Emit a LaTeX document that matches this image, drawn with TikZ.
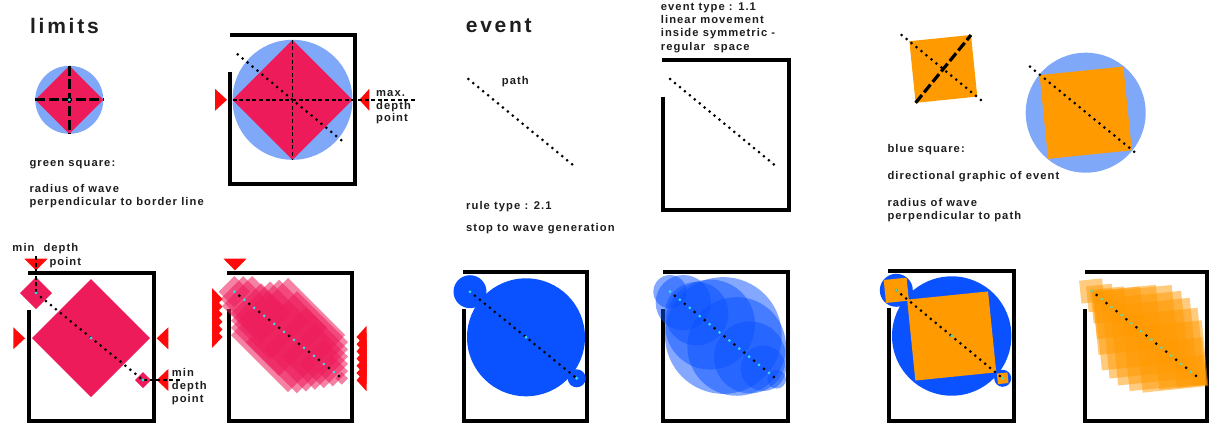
\documentclass[tikz,border=0pt]{standalone}
\usepackage{fontspec}
\setmainfont{Liberation Sans}[LetterSpace=13]
\newfontfamily\lblfont{Liberation Sans}[LetterSpace=9.5]
\definecolor{lblue}{HTML}{80A8F8}
\definecolor{crim}{HTML}{EE1B5B}
\definecolor{trired}{HTML}{FF0A0A}
\definecolor{dblue}{HTML}{0A52FF}
\definecolor{orng}{HTML}{FF9A00}
\definecolor{cyn}{HTML}{33E0E8}
\definecolor{cyng}{HTML}{55DDB8}
\definecolor{ink}{HTML}{1E1E1E}
\newcommand\pathang{39.2}
% rotated square, diagonal along the path: [opts]{cx}{cy}{half diagonal}
\newcommand\rsq[4][]{%
  \pgfmathsetmacro\sqdx{(#4)*cos(\pathang)}%
  \pgfmathsetmacro\sqdy{(#4)*sin(\pathang)}%
  \fill[#1] (#2+\sqdx,#3+\sqdy) -- (#2-\sqdy,#3+\sqdx) -- (#2-\sqdx,#3-\sqdy) -- (#2+\sqdy,#3-\sqdx) -- cycle;}
% diamond: [opts]{cx}{cy}{half diagonal}
\newcommand\dmd[4][]{%
  \fill[#1] (#2-#4,#3) -- (#2,#3-#4) -- (#2+#4,#3) -- (#2,#3+#4) -- cycle;}
% horizontal-pointing triangle: {base x}{tip x}{centre y}
\newcommand\htri[3]{\fill[trired] (#1,#3-11) -- (#2,#3) -- (#1,#3+11) -- cycle;}
% downward triangle: {centre x}{top y}{tip y}
\newcommand\dtri[3]{\fill[trired] (#1-11.7,#2) -- (#1+11.7,#2) -- (#1,#3) -- cycle;}
\begin{document}
\begin{tikzpicture}[x=1pt,y=-1pt,
  frame/.style={line width=4pt, line join=miter, line cap=butt},
  dotp/.style={line width=3pt, line cap=round, dash pattern=on 0pt off 6.4pt},
  dotalt/.style={line width=3pt, line cap=round, dash pattern=on 0pt off 12.8pt},
  thindash/.style={line width=1.5pt, dash pattern=on 4pt off 2.6pt},
  thickdash/.style={line width=3.2pt, dash pattern=on 10pt off 3.5pt},
  lbl/.style={inner sep=0pt, anchor=base west, text=ink, font=\lblfont\bfseries\fontsize{11.2}{13}\selectfont},
  ttl/.style={inner sep=0pt, anchor=base west, text=ink, font=\bfseries\fontsize{21}{25}\selectfont}]
\useasboundingbox (0,0) rectangle (1211,423);
\fill[white] (0,0) rectangle (1211,423);

% ================= titles
\node[ttl] (tlim) at (30,33.3) {limits};
\node[ttl] (tev) at (465.7,32.3) {event};

% ================= limits: small circle
\coordinate (sc) at (69.3,99.8);
\fill[lblue] (sc) circle[radius=34];
\dmd[crim]{69.3}{99.8}{34}
\coordinate (scl) at (35.3,99.8); \coordinate (scr) at (103.3,99.8);
\coordinate (sct) at (69.3,65.8); \coordinate (scb) at (69.3,133.8);
\draw[thickdash] (scl) -- (scr);
\draw[thickdash] (sct) -- (scb);
\fill[cyn] (sc) circle[radius=1.6];
\node[lbl] (g1) at (29.3,166.3) {green square:};
\node[lbl] (g2) at (29.3,192) {radius of wave};
\node[lbl] (g3) at (29.3,205) {perpendicular to border line};

% ================= limits: big top box
\fill[lblue] (292.5,99.8) circle[radius=60];
\dmd[crim]{292.5}{99.8}{60}
\coordinate (bt) at (292.5,39.8); \coordinate (bb) at (292.5,159.8);
\coordinate (bl) at (232.5,99.8); \coordinate (bx) at (415,99.8);
\draw[thindash] (bt) -- (bb);
\draw[frame] (230.3,72) -- (230.3,183.7) -- (354.7,183.7) -- (354.7,34.7) -- (230.3,34.7);
\htri{215}{227}{99.8}
\htri{369.3}{359.3}{99.8}
\draw[thindash] (bl) -- (bx);
\coordinate (p1s) at (237.7,54.3); \coordinate (p1e) at (344.3,142.7);
\draw[dotp] (p1s) -- (p1e);
\node[lbl] (m1) at (376,96.7) {max.};
\node[lbl] (m2) at (376,109.2) {depth};
\node[lbl] (m3) at (376,121.7) {point};

% ================= limits: bottom box 1
\draw[frame] (28.7,310) -- (28.7,421) -- (153.7,421) -- (153.7,272.7) -- (28.3,272.7);
\dmd[crim]{91}{338}{59}
\dmd[crim]{36}{293}{16}
\dmd[crim]{143}{380}{8}
\coordinate (p2s) at (36,293); \coordinate (p2m) at (91,338); \coordinate (p2e) at (143,380);
\coordinate (q2a) at (36,254); \coordinate (q2b) at (181,380);
\dtri{36}{258.7}{270.5}
\htri{13.3}{25}{338.3}
\htri{168.3}{156.7}{338.3}
\htri{168.3}{156.7}{380}
\draw[thindash] (p2s) -- (q2a);
\draw[thindash] (p2e) -- (q2b);
\draw[dotp] (p2s) -- (p2e);
\foreach \c in {p2s,p2m,p2e} \fill[cyn] (\c) circle[radius=1.6];
\node[lbl] (n1) at (12.3,251.5) {min};
\node[lbl] (n2) at (43.3,251.5) {depth};
\node[lbl] (n3) at (49.3,265) {point};
\node[lbl] (n4) at (171.7,376.5) {min};
\node[lbl] (n5) at (171.7,389.5) {depth};
\node[lbl] (n6) at (171.7,402.5) {point};

% ================= limits: bottom box 2 (wave sequence)
\draw[frame] (229,309) -- (229,421) -- (351.7,421) -- (351.7,272.7) -- (227,272.7);
\foreach \i in {0,...,12}{
  \pgfmathsetmacro\t{\i/12}
  \pgfmathsetmacro\cx{234.3+107.4*\t}
  \pgfmathsetmacro\cy{291.7+86.6*\t}
  \pgfmathsetmacro\r{min(\cy-276,348-\cx,ifthenelse(\cy>310,\cx-231,999))}
  \dmd[crim,fill opacity=0.55]{\cx}{\cy}{\r}
}
\dtri{235}{258.5}{270.5}
\foreach \i in {0,...,5}{\pgfmathsetmacro\c{299+7.6*\i}\htri{212}{222.5}{\c}}
\foreach \i in {0,...,6}{\pgfmathsetmacro\c{337+7.2*\i}\htri{366.5}{356.5}{\c}}
\coordinate (p3s) at (234.3,291.7); \coordinate (p3e) at (341.7,378.3);
\draw[dotalt, cyn] (p3s) -- (p3e);
\draw[dotalt, black, dash phase=6.4pt] (p3s) -- (p3e);

% ================= event: top
\coordinate (p4s) at (468.3,79); \coordinate (p4e) at (575,166.7);
\draw[dotp] (p4s) -- (p4e);
\node[lbl] (pa) at (501.7,84.5) {path};
\node[lbl] (r1) at (466,209.3) {rule type : 2.1};
\node[lbl] (r2) at (466,231.5) {stop to wave generation};
\node[lbl] (e1) at (660.7,10) {event type : 1.1};
\node[lbl] (e2) at (660.7,23.4) {linear movement};
\node[lbl] (e3) at (660.7,36.8) {inside symmetric -};
\node[lbl] (e4) at (660.7,50.2) {regular\ \ space};
\draw[frame] (662.8,96.7) -- (662.8,209.7) -- (789,209.7) -- (789,59.7) -- (662.3,59.7);
\coordinate (p5s) at (670,79); \coordinate (p5e) at (776.7,166.7);
\draw[dotp] (p5s) -- (p5e);

% ================= event: bottom box 1
\draw[frame] (463.7,309) -- (463.7,421) -- (587,421) -- (587,272) -- (463.3,272);
\coordinate (p6s) at (470,291.7); \coordinate (p6m) at (526,337.3); \coordinate (p6e) at (576.7,378.3);
\fill[dblue] (p6m) circle[radius=59];
\fill[dblue] (p6s) circle[radius=16.5];
\fill[dblue] (p6e) circle[radius=9];
\draw[dotp] (p6s) -- (p6e);
\foreach \c in {p6s,p6m,p6e} \fill[cyn] (\c) circle[radius=1.6];

% ================= event: bottom box 2 (wave sequence)
\draw[frame] (663,309) -- (663,421) -- (788.3,421) -- (788.3,272) -- (662.5,272);
\foreach \i in {0,...,8}{
  \pgfmathsetmacro\t{\i/8}
  \pgfmathsetmacro\cx{670+106.7*\t}
  \pgfmathsetmacro\cy{291.7+87.6*\t}
  \pgfmathsetmacro\r{min(\cy-275,786-\cx,ifthenelse(\cy>309,\cx-665,999))}
  \fill[dblue,fill opacity=0.5] (\cx,\cy) circle[radius=\r];
}
\coordinate (p7s) at (670,291.7); \coordinate (p7e) at (776.7,379.3);
\draw[dotalt, cyn] (p7s) -- (p7e);
\draw[dotalt, black, dash phase=6.4pt] (p7s) -- (p7e);

% ================= orange: top
\rsq[orng]{943.3}{68.9}{43.8}
\coordinate (p8s) at (901.7,35); \coordinate (p8e) at (981,100);
\coordinate (q8a) at (915.6,102.8); \coordinate (q8b) at (971,35);
\draw[dotp] (p8s) -- (p8e);
\draw[thickdash] (q8a) -- (q8b);
\fill[lblue] (1085.7,112.7) circle[radius=60];
\rsq[orng]{1085.7}{112.7}{59.5}
\coordinate (p9s) at (1030,66.7); \coordinate (p9e) at (1137.3,154.3);
\draw[dotp] (p9s) -- (p9e);
\node[lbl] (b1) at (887.3,152.8) {blue square:};
\node[lbl] (b2) at (887.3,179.5) {directional graphic of event};
\node[lbl] (b3) at (887.3,206) {radius of wave};
\node[lbl] (b4) at (887.3,219.5) {perpendicular to path};

% ================= orange: bottom box 1
\draw[frame] (888.7,308.3) -- (888.7,421) -- (1013.7,421) -- (1013.7,271) -- (888.3,271);
\coordinate (pas) at (896.3,290.3); \coordinate (pam) at (951.7,336); \coordinate (pae) at (1002.7,378.3);
\fill[dblue] (pam) circle[radius=59.7];
\fill[dblue] (pas) circle[radius=16.5];
\fill[dblue] (pae) circle[radius=8.5];
\rsq[orng]{951.7}{336}{57.5}
\rsq[orng]{896.3}{290.3}{16.3}
\rsq[orng]{1002.7}{378.3}{7.5}
\draw[dotp] (pas) -- (pae);
\foreach \c in {pas,pam,pae} \fill[cyng] (\c) circle[radius=1.6];

% ================= orange: bottom box 2 (sequence)
\draw[frame] (1085,309) -- (1085,421) -- (1206.7,421) -- (1206.7,271.7) -- (1084.5,271.7);
\foreach \t/\a in {0/11.5,0.08/13,0.16/17,0.25/24,0.33/32,0.42/39,0.5/40,0.58/40,0.67/38,0.75/33,0.83/24,0.92/15,1/7}{
  \pgfmathsetmacro\cx{1091.7+107.3*\t}
  \pgfmathsetmacro\cy{291+87.3*\t}
  \rsq[orng,fill opacity=0.5]{\cx}{\cy}{\a*1.4142}
}
\coordinate (pbs) at (1091.7,291); \coordinate (pbe) at (1199,378.3);
\draw[dotalt, cyng] (pbs) -- (pbe);
\draw[dotalt, black, dash phase=6.4pt] (pbs) -- (pbe);
\end{tikzpicture}
\end{document}
